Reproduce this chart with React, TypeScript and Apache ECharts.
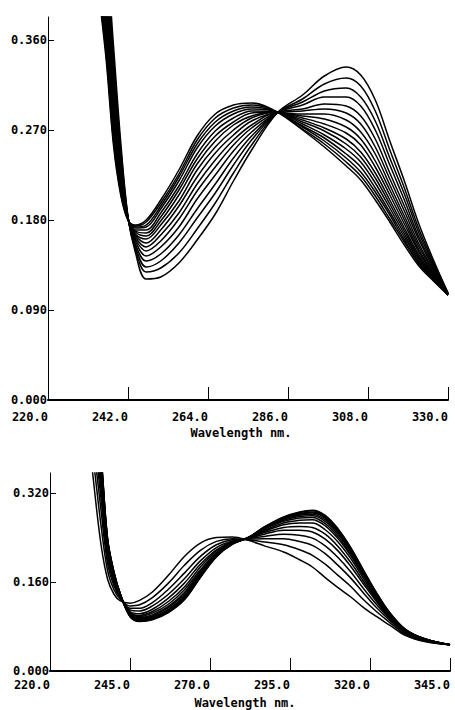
import React, { useEffect, useRef } from "react";
import * as echarts from "echarts";

// ---- Upper panel: 16 spectra, one row per wavelength (values of spectrum 1..16) ----
const topWavelengths = [234, 236, 238, 240, 242, 244, 247, 251, 256, 261, 266, 271, 276, 283, 290, 296, 302, 306, 310, 314, 318, 322, 326, 330];
const topAbsorbance = [
  [0.405, 0.409, 0.413, 0.418, 0.423, 0.428, 0.433, 0.44, 0.446, 0.453, 0.461, 0.469, 0.479, 0.488, 0.499, 0.51],
  [0.34, 0.345, 0.349, 0.353, 0.359, 0.365, 0.37, 0.377, 0.384, 0.392, 0.399, 0.408, 0.418, 0.429, 0.44, 0.452],
  [0.255, 0.259, 0.263, 0.267, 0.272, 0.277, 0.282, 0.288, 0.294, 0.301, 0.308, 0.316, 0.325, 0.334, 0.344, 0.355],
  [0.205, 0.207, 0.209, 0.211, 0.214, 0.217, 0.219, 0.223, 0.226, 0.229, 0.233, 0.237, 0.242, 0.247, 0.252, 0.258],
  [0.18, 0.18, 0.18, 0.18, 0.181, 0.181, 0.181, 0.181, 0.181, 0.181, 0.182, 0.182, 0.182, 0.182, 0.183, 0.183],
  [0.175, 0.174, 0.173, 0.172, 0.17, 0.169, 0.168, 0.166, 0.165, 0.163, 0.161, 0.159, 0.156, 0.154, 0.151, 0.148],
  [0.18, 0.178, 0.175, 0.173, 0.17, 0.167, 0.164, 0.161, 0.157, 0.153, 0.149, 0.144, 0.139, 0.133, 0.128, 0.121],
  [0.2, 0.197, 0.194, 0.191, 0.187, 0.183, 0.179, 0.175, 0.17, 0.165, 0.159, 0.153, 0.146, 0.139, 0.132, 0.123],
  [0.23, 0.226, 0.223, 0.219, 0.214, 0.21, 0.205, 0.199, 0.194, 0.187, 0.181, 0.173, 0.165, 0.157, 0.147, 0.137],
  [0.264, 0.26, 0.256, 0.252, 0.246, 0.241, 0.236, 0.23, 0.223, 0.216, 0.209, 0.201, 0.191, 0.182, 0.171, 0.16],
  [0.286, 0.282, 0.278, 0.274, 0.269, 0.264, 0.259, 0.253, 0.247, 0.24, 0.233, 0.225, 0.216, 0.207, 0.197, 0.186],
  [0.295, 0.292, 0.289, 0.286, 0.282, 0.278, 0.275, 0.27, 0.265, 0.26, 0.255, 0.249, 0.242, 0.235, 0.227, 0.219],
  [0.297, 0.295, 0.293, 0.291, 0.289, 0.287, 0.284, 0.282, 0.279, 0.275, 0.272, 0.268, 0.264, 0.26, 0.255, 0.25],
  [0.288, 0.288, 0.288, 0.288, 0.288, 0.288, 0.288, 0.288, 0.287, 0.287, 0.287, 0.287, 0.287, 0.287, 0.287, 0.287],
  [0.27, 0.271, 0.273, 0.274, 0.276, 0.278, 0.28, 0.282, 0.284, 0.286, 0.289, 0.291, 0.295, 0.298, 0.301, 0.305],
  [0.253, 0.256, 0.259, 0.262, 0.265, 0.269, 0.272, 0.276, 0.281, 0.286, 0.291, 0.296, 0.303, 0.309, 0.316, 0.324],
  [0.234, 0.238, 0.242, 0.246, 0.251, 0.256, 0.261, 0.267, 0.273, 0.28, 0.287, 0.294, 0.303, 0.312, 0.322, 0.333],
  [0.22, 0.224, 0.228, 0.233, 0.238, 0.243, 0.248, 0.255, 0.261, 0.268, 0.276, 0.284, 0.294, 0.303, 0.314, 0.325],
  [0.2, 0.204, 0.208, 0.212, 0.217, 0.222, 0.227, 0.233, 0.239, 0.246, 0.253, 0.261, 0.27, 0.279, 0.289, 0.3],
  [0.178, 0.181, 0.185, 0.188, 0.192, 0.196, 0.2, 0.205, 0.21, 0.215, 0.221, 0.227, 0.235, 0.242, 0.25, 0.259],
  [0.155, 0.158, 0.16, 0.163, 0.166, 0.169, 0.172, 0.176, 0.18, 0.184, 0.189, 0.194, 0.2, 0.206, 0.212, 0.219],
  [0.134, 0.136, 0.137, 0.139, 0.141, 0.143, 0.145, 0.148, 0.15, 0.153, 0.156, 0.16, 0.163, 0.167, 0.171, 0.176],
  [0.119, 0.12, 0.121, 0.122, 0.123, 0.124, 0.125, 0.126, 0.127, 0.129, 0.13, 0.132, 0.134, 0.136, 0.138, 0.14],
  [0.105, 0.105, 0.105, 0.105, 0.105, 0.105, 0.106, 0.106, 0.106, 0.106, 0.106, 0.106, 0.106, 0.107, 0.107, 0.107],
];
const topXTicks = [220, 242, 264, 286, 308, 330];
const topYTicks = [0, 0.09, 0.18, 0.27, 0.36];

// ---- Lower panel: 15 spectra, one row per wavelength ----
const bottomWavelengths = [232, 234, 236, 238, 240, 242, 245, 248, 252, 257, 262, 267, 272, 277, 282, 287, 293, 298, 302, 306, 310, 314, 318, 322, 326, 331, 337, 345];
const bottomAbsorbance = [
  [0.43, 0.466, 0.495, 0.517, 0.535, 0.549, 0.561, 0.571, 0.578, 0.584, 0.588, 0.592, 0.595, 0.597, 0.6],
  [0.32, 0.358, 0.388, 0.412, 0.432, 0.446, 0.459, 0.469, 0.477, 0.483, 0.487, 0.492, 0.495, 0.497, 0.5],
  [0.225, 0.259, 0.286, 0.307, 0.324, 0.337, 0.348, 0.358, 0.364, 0.37, 0.374, 0.378, 0.38, 0.383, 0.385],
  [0.165, 0.18, 0.193, 0.202, 0.21, 0.216, 0.221, 0.226, 0.229, 0.231, 0.233, 0.235, 0.236, 0.237, 0.238],
  [0.138, 0.146, 0.153, 0.158, 0.163, 0.166, 0.169, 0.171, 0.173, 0.174, 0.175, 0.176, 0.177, 0.177, 0.178],
  [0.126, 0.129, 0.131, 0.132, 0.133, 0.134, 0.135, 0.136, 0.136, 0.137, 0.137, 0.138, 0.138, 0.138, 0.138],
  [0.122, 0.117, 0.113, 0.11, 0.107, 0.105, 0.104, 0.102, 0.101, 0.1, 0.1, 0.099, 0.099, 0.098, 0.098],
  [0.127, 0.119, 0.113, 0.108, 0.103, 0.1, 0.098, 0.096, 0.094, 0.093, 0.092, 0.091, 0.09, 0.09, 0.089],
  [0.142, 0.132, 0.123, 0.117, 0.111, 0.107, 0.104, 0.101, 0.099, 0.097, 0.096, 0.094, 0.094, 0.093, 0.092],
  [0.172, 0.158, 0.147, 0.138, 0.131, 0.125, 0.12, 0.116, 0.114, 0.111, 0.11, 0.108, 0.107, 0.106, 0.105],
  [0.206, 0.19, 0.176, 0.166, 0.158, 0.151, 0.146, 0.141, 0.138, 0.135, 0.133, 0.132, 0.13, 0.129, 0.128],
  [0.23, 0.217, 0.206, 0.198, 0.192, 0.187, 0.182, 0.179, 0.176, 0.174, 0.172, 0.171, 0.17, 0.169, 0.168],
  [0.24, 0.233, 0.227, 0.222, 0.218, 0.216, 0.213, 0.211, 0.21, 0.208, 0.207, 0.207, 0.206, 0.206, 0.205],
  [0.241, 0.238, 0.236, 0.234, 0.233, 0.232, 0.231, 0.23, 0.23, 0.229, 0.229, 0.229, 0.228, 0.228, 0.228],
  [0.235, 0.236, 0.237, 0.238, 0.238, 0.239, 0.239, 0.239, 0.239, 0.24, 0.24, 0.24, 0.24, 0.24, 0.24],
  [0.225, 0.232, 0.238, 0.242, 0.246, 0.249, 0.251, 0.253, 0.255, 0.256, 0.257, 0.258, 0.258, 0.259, 0.259],
  [0.214, 0.227, 0.238, 0.246, 0.253, 0.258, 0.263, 0.266, 0.269, 0.271, 0.273, 0.274, 0.275, 0.276, 0.277],
  [0.2, 0.218, 0.233, 0.244, 0.253, 0.26, 0.266, 0.271, 0.275, 0.278, 0.28, 0.282, 0.283, 0.285, 0.286],
  [0.187, 0.208, 0.226, 0.239, 0.25, 0.258, 0.266, 0.272, 0.276, 0.279, 0.282, 0.284, 0.286, 0.288, 0.289],
  [0.168, 0.192, 0.211, 0.225, 0.237, 0.246, 0.254, 0.261, 0.265, 0.269, 0.272, 0.275, 0.277, 0.278, 0.28],
  [0.15, 0.172, 0.19, 0.204, 0.216, 0.224, 0.232, 0.238, 0.242, 0.246, 0.249, 0.251, 0.253, 0.254, 0.256],
  [0.133, 0.152, 0.167, 0.178, 0.188, 0.195, 0.202, 0.207, 0.21, 0.214, 0.216, 0.218, 0.219, 0.221, 0.222],
  [0.114, 0.128, 0.14, 0.148, 0.156, 0.161, 0.166, 0.17, 0.172, 0.175, 0.176, 0.178, 0.179, 0.18, 0.181],
  [0.098, 0.107, 0.114, 0.12, 0.125, 0.128, 0.131, 0.134, 0.135, 0.137, 0.138, 0.139, 0.14, 0.14, 0.141],
  [0.083, 0.088, 0.092, 0.095, 0.097, 0.099, 0.101, 0.102, 0.103, 0.104, 0.104, 0.105, 0.105, 0.106, 0.106],
  [0.064, 0.066, 0.068, 0.07, 0.071, 0.072, 0.073, 0.073, 0.074, 0.074, 0.074, 0.075, 0.075, 0.075, 0.075],
  [0.053, 0.054, 0.055, 0.056, 0.056, 0.057, 0.057, 0.057, 0.057, 0.058, 0.058, 0.058, 0.058, 0.058, 0.058],
  [0.047, 0.047, 0.047, 0.047, 0.047, 0.047, 0.047, 0.047, 0.047, 0.047, 0.047, 0.047, 0.047, 0.047, 0.047],
];
const bottomXTicks = [220, 245, 270, 295, 320, 345];
const bottomYTicks = [0, 0.16, 0.32];
const xTitle = "Wavelength nm.";

const FONT = "DejaVu Sans Mono";
const labelStyle = { color: "#000", fontFamily: FONT, fontSize: 12, fontWeight: "bold" as const };

function buildSeries(wl: number[], rows: number[][], axis: number) {
  const n = rows[0].length;
  const out: any[] = [];
  for (let c = 0; c < n; c++) {
    out.push({
      type: "line",
      xAxisIndex: axis,
      yAxisIndex: axis,
      data: wl.map((w, i) => [w, rows[i][c]]),
      showSymbol: false,
      symbol: "none",
      smooth: 0.35,
      clip: true,
      lineStyle: { color: "#000", width: 1.5 },
      silent: true,
    });
  }
  return out;
}

function xAxis(grid: number, min: number, max: number, interval: number, ticks: number[], margin: number) {
  return {
    type: "value",
    gridIndex: grid,
    min,
    max,
    interval,
    axisLine: { show: true, lineStyle: { color: "#000", width: 2 } },
    axisTick: { show: true, inside: true, length: 13, customValues: ticks, lineStyle: { color: "#000", width: 1 } },
    axisLabel: { ...labelStyle, align: "right", margin, customValues: ticks, formatter: (v: number) => v.toFixed(1) },
    splitLine: { show: false },
  };
}

function yAxis(grid: number, max: number, interval: number, ticks: number[]) {
  return {
    type: "value",
    gridIndex: grid,
    min: 0,
    max,
    interval,
    axisLine: { show: true, lineStyle: { color: "#000", width: 1 } },
    axisTick: { show: true, inside: true, length: 6, customValues: ticks, lineStyle: { color: "#000", width: 1 } },
    axisLabel: { ...labelStyle, margin: 1, customValues: ticks, formatter: (v: number) => v.toFixed(3) },
    splitLine: { show: false },
  };
}

export default function App() {
  const ref = useRef<HTMLDivElement>(null);
  useEffect(() => {
    if (!ref.current) return;
    const chart = echarts.init(ref.current, undefined, { renderer: "svg" });
    chart.setOption({
      animation: false,
      backgroundColor: "#fff",
      grid: [
        { left: 48, top: 17, width: 400, height: 383 },
        { left: 50, top: 473, width: 400, height: 198 },
      ],
      xAxis: [xAxis(0, 220, 330, 22, topXTicks, 11), xAxis(1, 220, 345, 25, bottomXTicks, 8)],
      yAxis: [yAxis(0, 0.383, 0.09, topYTicks), yAxis(1, 0.356, 0.16, bottomYTicks)],
      series: [...buildSeries(topWavelengths, topAbsorbance, 0), ...buildSeries(bottomWavelengths, bottomAbsorbance, 1)],
      graphic: [
        { type: "text", x: 241, y: 433, style: { text: xTitle, ...labelStyle, fill: "#000", textAlign: "center", textVerticalAlign: "middle" } },
        { type: "text", x: 245, y: 703, style: { text: xTitle, ...labelStyle, fill: "#000", textAlign: "center", textVerticalAlign: "middle" } },
      ],
    });
    return () => chart.dispose();
  }, []);
  return <div ref={ref} style={{ position: "absolute", left: 0, top: 0, width: 455, height: 710 }} />;
}
